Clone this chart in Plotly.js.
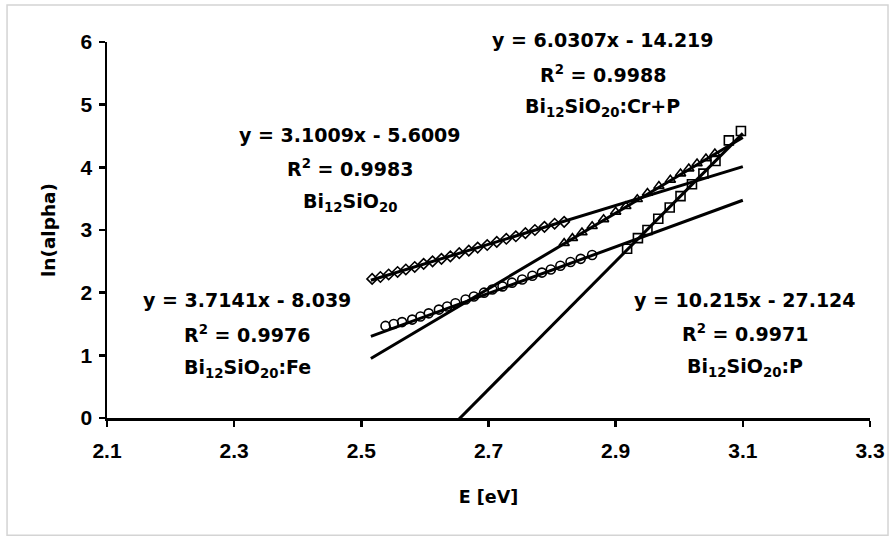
<!DOCTYPE html>
<html>
<head>
<meta charset="utf-8">
<script src="https://cdn.plot.ly/plotly-3.0.1.min.js"></script>
<style>
html,body{margin:0;padding:0;background:#fff;}
#chart{width:896px;height:539px;}
</style>
</head>
<body>
<div id="chart"></div>
<script>
// ---- data ----
const bsoX = [2.517,2.530,2.543,2.557,2.570,2.584,2.598,2.612,2.626,2.640,2.654,2.669,2.683,2.698,2.713,2.728,2.743,2.758,2.773,2.788,2.804,2.819];
const bsoY = [2.22,2.25,2.29,2.33,2.37,2.41,2.46,2.50,2.54,2.58,2.63,2.67,2.72,2.76,2.81,2.86,2.90,2.95,3.00,3.05,3.10,3.13];

const feX = [2.538,2.551,2.564,2.580,2.593,2.606,2.622,2.635,2.648,2.664,2.677,2.693,2.706,2.722,2.737,2.753,2.769,2.784,2.798,2.813,2.829,2.845,2.863];
const feY = [1.47,1.50,1.53,1.57,1.62,1.67,1.73,1.78,1.83,1.89,1.94,2.00,2.05,2.10,2.16,2.21,2.27,2.32,2.37,2.43,2.49,2.54,2.60];

const crpX = [2.819,2.832,2.847,2.863,2.881,2.900,2.916,2.934,2.950,2.968,2.986,3.002,3.015,3.028,3.042,3.056];
const crpY = [2.79,2.87,2.96,3.06,3.17,3.29,3.38,3.49,3.59,3.70,3.80,3.90,3.98,4.06,4.14,4.22];

const pX = [2.918,2.935,2.950,2.967,2.985,3.002,3.020,3.038,3.057,3.078,3.097];
const pY = [2.70,2.87,3.00,3.18,3.36,3.54,3.73,3.90,4.10,4.43,4.58];

// trendline equations as printed on the chart
const fitSlope = [3.1009, 3.7141, 6.0307, 10.215];
const fitIntercept = [-5.6009, -8.039, -14.219, -27.124];
const fitXStart = [2.515, 2.515, 2.515, 2.515];
const fitXEnd = [3.10, 3.10, 3.10, 3.10];

const eqTexts = ["y = 3.1009x - 5.6009","y = 3.7141x - 8.039","y = 6.0307x - 14.219","y = 10.215x - 27.124"];
const r2Texts = ["R<sup>2</sup> = 0.9983","R<sup>2</sup> = 0.9976","R<sup>2</sup> = 0.9988","R<sup>2</sup> = 0.9971"];
const nameTexts = ["Bi<sub>12</sub>SiO<sub>20</sub>","Bi<sub>12</sub>SiO<sub>20</sub>:Fe","Bi<sub>12</sub>SiO<sub>20</sub>:Cr+P","Bi<sub>12</sub>SiO<sub>20</sub>:P"];

const xTickStart = 2.1, xTickStep = 0.2;
const xTitle = "E [eV]";
const yTitle = "ln(alpha)";

// ---- build ----
const FONT = "DejaVu Sans";
const TICKFONT = "Liberation Sans, Arial, sans-serif";
const seriesX = [bsoX, feX, crpX, pX];
const seriesY = [bsoY, feY, crpY, pY];
const symbols = ["diamond-open","circle-open","triangle-up-open","square-open"];
const sizes = [8, 9, 9, 9];

const traces = [];
for (let i = 0; i < 4; i++) {
  traces.push({
    x: seriesX[i], y: seriesY[i], type: "scatter", mode: "markers",
    marker: {symbol: symbols[i], size: sizes[i], color: "#000", line: {color: "#000", width: 1.6}},
    showlegend: false, hoverinfo: "x+y"
  });
}
for (let i = 0; i < 4; i++) {
  const xs = [fitXStart[i], fitXEnd[i]];
  traces.push({
    x: xs, y: xs.map(v => fitSlope[i] * v + fitIntercept[i]),
    type: "scatter", mode: "lines",
    line: {color: "#000", width: 3},
    showlegend: false, hoverinfo: "skip"
  });
}

// label block anchor positions (paper coordinates)
const blockX = [0.319, 0.184, 0.650, 0.836];
const blockY = [[0.753, 0.665, 0.572], [0.314, 0.223, 0.132], [1.005, 0.916, 0.827], [0.314, 0.226, 0.135]];
const annFont = {family: FONT, size: 19, color: "#000", weight: 700};
const annotations = [];
for (let i = 0; i < 4; i++) {
  const t = [eqTexts[i], r2Texts[i], nameTexts[i]];
  for (let k = 0; k < 3; k++) {
    annotations.push({x: blockX[i], y: blockY[i][k], xref: "paper", yref: "paper", text: t[k],
      showarrow: false, font: annFont, xanchor: "center", yanchor: "middle"});
  }
}

const layout = {
  width: 896, height: 539,
  margin: {l: 107, r: 26, t: 42, b: 121},
  paper_bgcolor: "#fff", plot_bgcolor: "#fff",
  font: {family: FONT, color: "#000", weight: 700, size: 17},
  showlegend: false,
  xaxis: {
    range: [2.1, 3.3], tick0: xTickStart, dtick: xTickStep, tickformat: ".1f",
    showgrid: false, zeroline: false, showline: true, linecolor: "#000", linewidth: 2.5,
    ticks: "outside", ticklen: 6, tickwidth: 2.5, tickcolor: "#000",
    ticklabelstandoff: 6,
    tickfont: {family: TICKFONT, size: 21, color: "#000", weight: 700},
    title: {text: xTitle, font: {family: FONT, size: 17.5, color: "#000", weight: 700}, standoff: 30}
  },
  yaxis: {
    range: [0, 6], dtick: 1,
    showgrid: false, zeroline: false, showline: true, linecolor: "#000", linewidth: 2.5,
    ticks: "outside", ticklen: 6, tickwidth: 2.5, tickcolor: "#000",
    ticklabelstandoff: 2,
    tickfont: {family: TICKFONT, size: 21, color: "#000", weight: 700},
    title: {text: yTitle, font: {family: FONT, size: 18.5, color: "#000", weight: 700}, standoff: 20}
  },
  annotations: annotations,
  shapes: [{type: "rect", xref: "paper", yref: "paper",
    x0: -0.131, x1: 1.0236, y0: -0.312, y1: 1.0987,
    line: {color: "#d4d4d4", width: 1.5}, fillcolor: "rgba(0,0,0,0)", layer: "below"}]
};

Plotly.newPlot("chart", traces, layout, {displayModeBar: false, staticPlot: true});
</script>
</body>
</html>
